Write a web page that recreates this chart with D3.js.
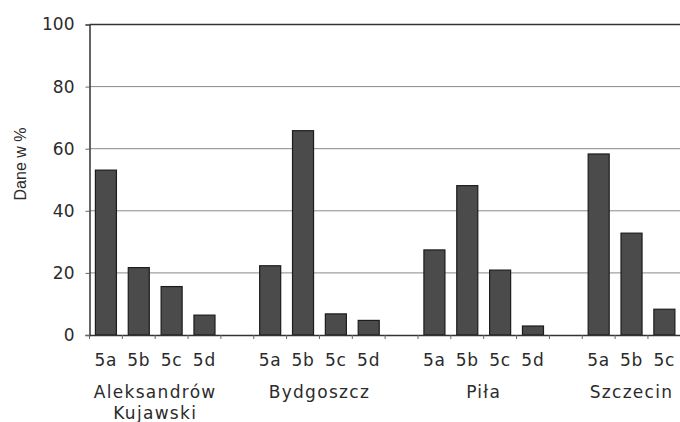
<!DOCTYPE html>
<html>
<head>
<meta charset="utf-8">
<script src="https://cdn.jsdelivr.net/npm/d3@7"></script>
<style>
  html, body { margin: 0; padding: 0; background: #ffffff; overflow: hidden; }
  svg { display: block; }
</style>
</head>
<body>
<svg id="chart" width="680" height="422"></svg>
<script>
// ---- data ----
const groups = ["Aleksandrów Kujawski", "Bydgoszcz", "Piła", "Szczecin"];
const groupLines = [["Aleksandrów", "Kujawski"], ["Bydgoszcz"], ["Piła"], ["Szczecin"]];
const seriesNames = ["5a", "5b", "5c", "5d"];
const aleksandrowValues = [53.1, 21.7, 15.6, 6.4];
const bydgoszczValues = [22.3, 65.8, 6.8, 4.7];
const pilaValues = [27.4, 48.1, 20.9, 2.9];
const szczecinValues = [58.3, 32.8, 8.3]; // only 5a–5c are shown for Szczecin
const yTicks = [0, 20, 40, 60, 80, 100];
const yLabel = "Dane w %";

const valuesByGroup = [aleksandrowValues, bydgoszczValues, pilaValues, szczecinValues];

// build slots: one per value + one empty slot between groups
const slots = [];
groups.forEach((g, gi) => {
  valuesByGroup[gi].forEach((v, si) => {
    slots.push({ id: g + "|" + seriesNames[si], group: gi, label: seriesNames[si], value: v });
  });
  if (gi < groups.length - 1) slots.push({ id: g + "|gap", group: gi, label: "", value: null });
});

// ---- layout ----
const svg = d3.select("#chart");
const plotLeft = 89.5, plotTop = 24.5, plotBottom = 335;
const step = 32.85;
const plotRight = plotLeft + slots.length * step;

const x = d3.scaleBand()
  .domain(slots.map(d => d.id))
  .range([plotLeft, plotRight])
  .paddingInner(0.36)
  .paddingOuter(0.18);

const y = d3.scaleLinear().domain([0, 100]).range([plotBottom, plotTop]);

const textColor = "#2b2b2b";
const tickFont = "'DejaVu Sans', Verdana, sans-serif";

// gridlines
svg.append("g")
  .selectAll("line")
  .data(yTicks.filter(t => t > 0 && t < 100))
  .join("line")
  .attr("x1", plotLeft).attr("x2", plotRight)
  .attr("y1", d => y(d)).attr("y2", d => y(d))
  .attr("stroke", "#8a8a8a").attr("stroke-width", 1);

// plot frame top line
svg.append("line")
  .attr("x1", plotLeft).attr("x2", plotRight)
  .attr("y1", y(100)).attr("y2", y(100))
  .attr("stroke", "#333").attr("stroke-width", 1.5);

// bars
svg.append("g")
  .selectAll("rect")
  .data(slots.filter(d => d.value != null))
  .join("rect")
  .attr("x", d => x(d.id))
  .attr("width", x.bandwidth())
  .attr("y", d => y(d.value))
  .attr("height", d => y(0) - y(d.value))
  .attr("fill", "#4b4b4b")
  .attr("stroke", "#1c1c1c")
  .attr("stroke-width", 1.2);

// y axis
const yAxis = svg.append("g")
  .attr("transform", `translate(${plotLeft},0)`)
  .call(d3.axisLeft(y).tickValues(yTicks).tickSize(4).tickPadding(11).tickFormat(d3.format("d")));
yAxis.select(".domain").attr("stroke", "#333").attr("stroke-width", 1.5);
yAxis.selectAll(".tick line").attr("stroke", "#666");
yAxis.selectAll("text")
  .attr("font-family", tickFont)
  .attr("font-size", 17)
  .attr("fill", textColor);

// x axis: labels (no tick marks at label positions)
const xAxis = svg.append("g")
  .attr("transform", `translate(0,${plotBottom})`)
  .call(d3.axisBottom(x).tickSize(0).tickPadding(19).tickFormat(id => slots.find(s => s.id === id).label));
xAxis.select(".domain").attr("stroke", "#333").attr("stroke-width", 1.5);
xAxis.selectAll("text")
  .attr("font-family", tickFont)
  .attr("font-size", 17)
  .attr("letter-spacing", 0.8)
  .attr("fill", textColor);

// boundary tick marks between slots
const half = (x.step() - x.bandwidth()) / 2;
svg.append("g")
  .selectAll("line")
  .data(slots)
  .join("line")
  .attr("x1", d => x(d.id) - half).attr("x2", d => x(d.id) - half)
  .attr("y1", plotBottom).attr("y2", plotBottom + 4)
  .attr("stroke", "#666");

// group labels
groupLines.forEach((lines, gi) => {
  const ids = slots.filter(s => s.group === gi && s.label).map(s => s.id);
  const cx = (x(ids[0]) + x(ids[ids.length - 1]) + x.bandwidth()) / 2;
  const t = svg.append("text")
    .attr("x", cx).attr("y", 398)
    .attr("text-anchor", "middle")
    .attr("font-family", tickFont)
    .attr("font-size", 17)
    .attr("letter-spacing", 1.3)
    .attr("fill", textColor);
  lines.forEach((ln, li) => {
    t.append("tspan").attr("x", cx).attr("dy", li === 0 ? 0 : 21).text(ln);
  });
});

// y label
svg.append("text")
  .attr("transform", `translate(26,${164}) rotate(-90)`)
  .attr("text-anchor", "middle")
  .attr("font-family", "'Liberation Sans', Arial, sans-serif")
  .attr("font-size", 16)
  .attr("fill", textColor)
  .text(yLabel);
</script>
</body>
</html>
